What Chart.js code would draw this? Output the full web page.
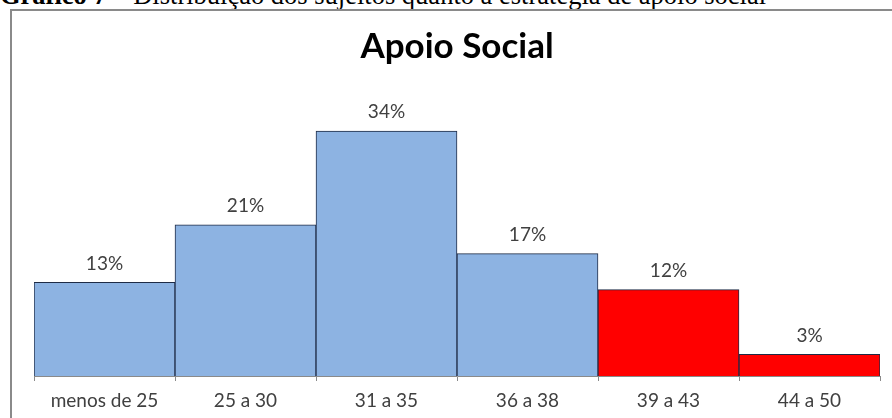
<!DOCTYPE html>
<html lang="pt">
<head>
<meta charset="utf-8">
<title>Apoio Social</title>
<script src="https://cdn.jsdelivr.net/npm/chart.js@4/dist/chart.umd.min.js"></script>
<style>
  html, body { margin: 0; padding: 0; background: #fff; overflow: hidden; }
  body { width: 892px; height: 418px; position: relative; }
  .caption {
    position: absolute; left: 0; top: -18px; white-space: nowrap;
    font-family: "Liberation Serif", "Times New Roman", serif;
    font-size: 26.5px; line-height: 26.5px; color: #000;
  }
  .frame {
    position: absolute; left: 10px; top: 9px; width: 1000px; height: 500px;
    border: 2px solid #8a8a8a; box-sizing: border-box;
  }
  #wrap { position: absolute; left: 0; top: 0; width: 892px; height: 418px; }
</style>
</head>
<body>
<div class="caption"><b>Gráfico 7</b> – Distribuição dos sujeitos quanto à estratégia de apoio social</div>
<div class="frame"></div>
<div id="wrap"><canvas id="apoio"></canvas></div>
<script>
const faixas = ["menos de 25", "25 a 30", "31 a 35", "36 a 38", "39 a 43", "44 a 50"];
const percentuais = [13, 21, 34, 17, 12, 3];
const cores = ["#8db3e2", "#8db3e2", "#8db3e2", "#8db3e2", "#ff0000", "#ff0000"];

// percent labels above each bar
const rotulos = {
  id: "rotulos",
  afterDatasetsDraw(chart) {
    const ctx = chart.ctx;
    const meta = chart.getDatasetMeta(0);
    ctx.save();
    ctx.font = "19px Lato";
    ctx.fillStyle = "#404040";
    ctx.textAlign = "center";
    ctx.textBaseline = "middle";
    meta.data.forEach((bar, i) => {
      ctx.fillText(percentuais[i] + "%", bar.x, bar.y - 19);
    });
    ctx.restore();
  }
};

new Chart(document.getElementById("apoio").getContext("2d"), {
  type: "bar",
  data: {
    labels: faixas,
    datasets: [
      {
        label: "Apoio Social",
        data: percentuais,
        backgroundColor: cores,
        borderColor: "#1e2b45",
        borderWidth: 1,
        barPercentage: 1,
        categoryPercentage: 1,
      },
    ],
  },
  options: {
    responsive: true,
    maintainAspectRatio: false,
    animation: false,
    layout: { padding: { left: 34, right: 12, top: 0, bottom: 0 } },
    plugins: {
      legend: { display: false },
      tooltip: { enabled: false },
      title: {
        display: true,
        fullSize: false,
        text: "Apoio Social",
        color: "#000",
        font: { family: "Lato", size: 35, weight: "bold" },
        padding: { top: 26, bottom: 20 },
      },
    },
    scales: {
      x: {
        grid: {
          offset: true,
          drawOnChartArea: false,
          tickLength: 5,
          color: "#8a8a8a",
        },
        border: { display: true, color: "#8a8a8a" },
        ticks: {
          color: "#404040",
          padding: 8,
          font: { family: "Lato", size: 19 },
        },
        afterFit(scale) { scale.height = 42; },
      },
      y: {
        display: false,
        min: 0,
        max: 40,
      },
    },
  },
  plugins: [rotulos],
});
</script>
</body>
</html>
